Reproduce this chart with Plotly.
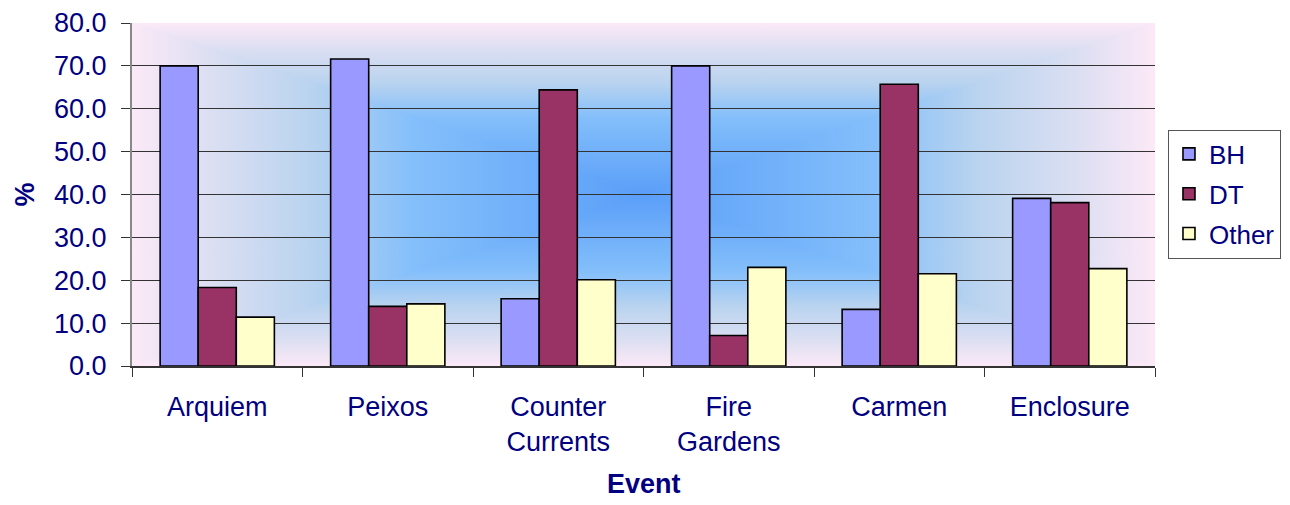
import base64
import plotly.graph_objects as go

categories = ["Arquiem", "Peixos", "Counter<br>Currents", "Fire<br>Gardens", "Carmen", "Enclosure"]
bh = [70.0, 71.6, 15.7, 70.0, 13.2, 39.1]
dt = [18.3, 13.9, 64.4, 7.1, 65.7, 38.1]
other = [11.4, 14.5, 20.1, 23.0, 21.5, 22.7]

series = [("BH", bh, "#9999FF"), ("DT", dt, "#993366"), ("Other", other, "#FFFFCC")]

NAVY = "#000080"
FONT = "Liberation Sans, Arial, sans-serif"

# Rectangular "from center" gradient background (Excel-like), built as SVG
stops = [(0.0, "#5a9ef8"), (0.45, "#84bffb"), (0.65, "#b9d3ef"), (0.85, "#dcdff2"), (1.0, "#fce9f7")]

def grad(gid, x1, y1, x2, y2):
    s = "".join(f'<stop offset="{o}" stop-color="{c}"/>' for o, c in stops)
    return (f'<linearGradient id="{gid}" gradientUnits="userSpaceOnUse" '
            f'x1="{x1}" y1="{y1}" x2="{x2}" y2="{y2}">{s}</linearGradient>')

svg = ('<svg xmlns="http://www.w3.org/2000/svg" viewBox="0 0 100 100" preserveAspectRatio="none" '
       'width="1000" height="1000"><defs>'
       + grad("t", 50, 50, 50, 0) + grad("b", 50, 50, 50, 100)
       + grad("l", 50, 50, 0, 50) + grad("r", 50, 50, 100, 50)
       + '</defs>'
       '<rect x="0" y="0" width="100" height="100" fill="#dcdff2"/>'
       '<polygon points="-0.3,0 100.3,0 50,50.3" fill="url(#t)"/>'
       '<polygon points="-0.3,100 100.3,100 50,49.7" fill="url(#b)"/>'
       '<polygon points="0,-0.3 0,100.3 50.3,50" fill="url(#l)"/>'
       '<polygon points="100,-0.3 100,100.3 49.7,50" fill="url(#r)"/>'
       '</svg>')
svg_uri = "data:image/svg+xml;base64," + base64.b64encode(svg.encode()).decode()

fig = go.Figure()
for i, (name, vals, color) in enumerate(series):
    fig.add_trace(go.Bar(
        x=categories, y=vals, name=name, legendgroup=name,
        marker=dict(color=color, line=dict(color="#000000", width=1.6)),
    ))

fig.update_layout(
    width=1274, height=489,
    margin=dict(l=124, r=127, t=15, b=131),
    paper_bgcolor="#FFFFFF",
    plot_bgcolor="rgba(0,0,0,0)",
    barmode="group", bargap=0.33, bargroupgap=0.0,
    font=dict(family=FONT, size=26, color=NAVY),
    showlegend=True,
    legend=dict(
        xref="container", yref="container",
        x=0.9105, xanchor="left", y=0.6196, yanchor="middle",
        bgcolor="#FFFFFF", bordercolor="#555555", borderwidth=1,
        font=dict(family=FONT, size=26, color=NAVY),
        traceorder="grouped", tracegroupgap=3,
    ),
    images=[dict(source=svg_uri, xref="paper", yref="paper", x=0, y=1,
                 sizex=1, sizey=1, sizing="stretch", layer="below")],
    annotations=[dict(text="<b>Event</b>", xref="paper", yref="paper",
                      x=0.5, y=-0.344, xanchor="center", yanchor="middle",
                      showarrow=False, font=dict(family=FONT, size=27, color=NAVY))],
)

fig.update_xaxes(
    automargin=False,
    showline=True, linecolor="#333333", linewidth=1.5,
    ticks="outside", tickson="boundaries", ticklen=9, tickcolor="#333333", tickwidth=1.2,
    tickfont=dict(family=FONT, size=27, color=NAVY),
    ticklabelstandoff=16,
    showgrid=False,
)
fig.update_yaxes(
    automargin=False,
    range=[0, 80], dtick=10, tickformat=".1f",
    showline=True, linecolor="#888888", linewidth=2,
    ticks="outside", ticklen=9, tickcolor="#333333", tickwidth=1.2,
    tickfont=dict(family=FONT, size=27, color=NAVY),
    ticklabelstandoff=9,
    showgrid=True, gridcolor="#333333", gridwidth=1.4,
    zeroline=False,
    title=dict(text="<b>%</b>", font=dict(family=FONT, size=27, color=NAVY), standoff=12),
)

fig.write_html("out.html")
